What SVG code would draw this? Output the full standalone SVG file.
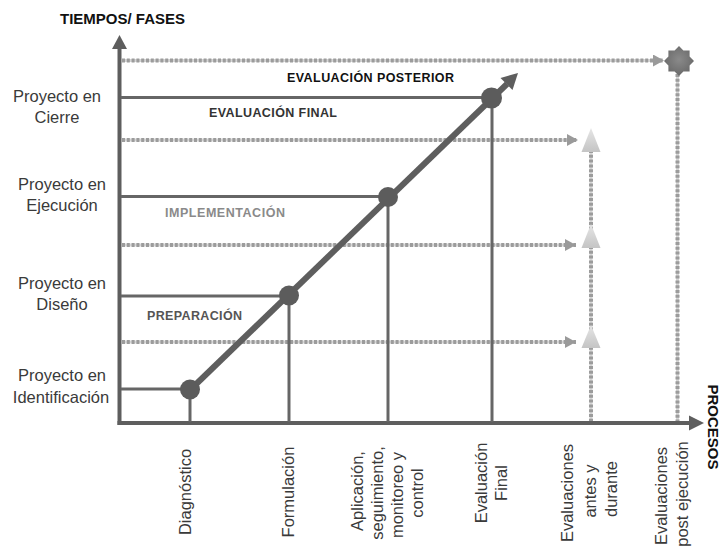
<svg xmlns="http://www.w3.org/2000/svg" width="724" height="551" viewBox="0 0 724 551">
  <style>
    .lbl { font-family: "Liberation Sans", Arial, sans-serif; font-size: 16.5px; fill: #3a3a3a; }
    .lblc { text-anchor: middle; }
    .hd { font-family: "Liberation Sans", Arial, sans-serif; font-weight: bold; fill: #111; }
    .phase { font-family: "Liberation Sans", Arial, sans-serif; font-weight: bold; font-size: 12.5px; }
    .solid { stroke: #666; stroke-width: 3; fill: none; }
    .axis { stroke: #5e5e5e; stroke-width: 4; fill: none; }
    .dotbase { stroke: #d6d6d6; stroke-width: 3; fill: none; }
    .dot { stroke: #9c9c9c; stroke-width: 4; stroke-dasharray: 3 1.8; fill: none; }
    .node { fill: #5c5c5c; }
    .tri { fill: url(#triFill); }
  </style>
  <defs>
    <marker id="dashHead" markerUnits="userSpaceOnUse" markerWidth="12" markerHeight="12" refX="11" refY="6" orient="auto">
      <path d="M0,0 L11,6 L0,12 z" fill="#9a9a9a"/>
    </marker>
    <linearGradient id="triFill" x1="0" y1="0" x2="0" y2="1">
      <stop offset="0" stop-color="#e6e6e6"/>
      <stop offset="1" stop-color="#c4c4c4"/>
    </linearGradient>
    <radialGradient id="starFill" cx="0.5" cy="0.45" r="0.6">
      <stop offset="0" stop-color="#8a8a8a"/>
      <stop offset="1" stop-color="#666"/>
    </radialGradient>
  </defs>

  <!-- axes -->
  <g id="axes">
    <line class="axis" x1="119.5" y1="425" x2="119.5" y2="47"/>
    <polygon points="112,49 127,49 119.5,35" fill="#5e5e5e"/>
    <line class="axis" x1="117.5" y1="423" x2="690" y2="423"/>
    <polygon points="689,415.5 689,430.5 704,423" fill="#5e5e5e"/>
    <text class="hd" x="60" y="24" font-size="15">TIEMPOS/ FASES</text>
    <text class="hd" font-size="15" text-anchor="middle" transform="translate(708,427) rotate(90)">PROCESOS</text>
  </g>

  <!-- connectors -->
  <g id="connectors">
    <!-- dotted evaluation guides -->
    <line class="dotbase" x1="122" y1="60.5" x2="654" y2="60.5"/>
    <line class="dot" x1="122" y1="60.5" x2="664" y2="60.5" marker-end="url(#dashHead)"/>
    <line class="dotbase" x1="122" y1="140" x2="568" y2="140"/>
    <line class="dot" x1="122" y1="140" x2="578" y2="140" marker-end="url(#dashHead)"/>
    <line class="dotbase" x1="122" y1="245" x2="566" y2="245"/>
    <line class="dot" x1="122" y1="245" x2="576" y2="245" marker-end="url(#dashHead)"/>
    <line class="dotbase" x1="122" y1="342" x2="566" y2="342"/>
    <line class="dot" x1="122" y1="342" x2="576" y2="342" marker-end="url(#dashHead)"/>
    <line class="dotbase" x1="591" y1="150" x2="591" y2="421"/>
    <line class="dot" x1="591" y1="150" x2="591" y2="421"/>
    <line class="dotbase" x1="677.5" y1="74" x2="677.5" y2="421"/>
    <line class="dot" x1="677.5" y1="74" x2="677.5" y2="421"/>

    <!-- solid phase levels -->
    <line class="solid" x1="121" y1="97.5" x2="492" y2="97.5"/>
    <line class="solid" x1="121" y1="196.5" x2="388" y2="196.5"/>
    <line class="solid" x1="121" y1="296" x2="289" y2="296"/>
    <line class="solid" x1="121" y1="389" x2="190" y2="389"/>
    <!-- drops to the process axis -->
    <line class="solid" x1="190" y1="390" x2="190" y2="422"/>
    <line class="solid" x1="289" y1="296" x2="289" y2="422"/>
    <line class="solid" x1="388" y1="197" x2="388" y2="422"/>
    <line class="solid" x1="492" y1="98" x2="492" y2="422"/>

    <!-- progress diagonal -->
    <line x1="190" y1="390" x2="507" y2="84" stroke="#5e5e5e" stroke-width="6"/>
    <polygon points="518,73 512.5,90 500.5,78" fill="#5e5e5e"/>
  </g>

  <!-- milestone nodes -->
  <g id="node-identificacion">
    <circle class="node" cx="190" cy="389.5" r="10"/>
    <text class="lbl lblc" x="62" y="381">Proyecto en</text>
    <text class="lbl lblc" x="61" y="403">Identificación</text>
  </g>
  <g id="node-diseno">
    <circle class="node" cx="289" cy="295.5" r="10"/>
    <text class="lbl lblc" x="62" y="289">Proyecto en</text>
    <text class="lbl lblc" x="62" y="310">Diseño</text>
  </g>
  <g id="node-ejecucion">
    <circle class="node" cx="388" cy="197" r="10"/>
    <text class="lbl lblc" x="62" y="190">Proyecto en</text>
    <text class="lbl lblc" x="62" y="211">Ejecución</text>
  </g>
  <g id="node-cierre">
    <circle class="node" cx="491.5" cy="98" r="10.5"/>
    <text class="lbl lblc" x="57" y="102">Proyecto en</text>
    <text class="lbl lblc" x="57" y="123">Cierre</text>
  </g>
  <g id="node-post">
    <!-- eight-pointed star, outer r 15, inner r 11.5 -->
    <polygon fill="url(#starFill)" points="679,46 683.4,50.4 689.6,50.4 689.6,56.6 694,61 689.6,65.4 689.6,71.6 683.4,71.6 679,76 674.6,71.6 668.4,71.6 668.4,65.4 664,61 668.4,56.6 668.4,50.4 674.6,50.4"/>
  </g>
  <g id="node-eval-1">
    <polygon class="tri" points="591,128 600.5,152 581.5,152"/>
  </g>
  <g id="node-eval-2">
    <polygon class="tri" points="591,224 600.5,248 581.5,248"/>
  </g>
  <g id="node-eval-3">
    <polygon class="tri" points="591,325 600.5,348 581.5,348"/>
  </g>

  <!-- phase labels -->
  <g id="phases">
    <text class="phase" x="287" y="82" fill="#111" textLength="167">EVALUACIÓN POSTERIOR</text>
    <text class="phase" x="209" y="117" fill="#333" textLength="128">EVALUACIÓN FINAL</text>
    <text class="phase" x="165" y="217" fill="#8a8a8a" textLength="120">IMPLEMENTACIÓN</text>
    <text class="phase" x="147" y="320" fill="#555" textLength="95">PREPARACIÓN</text>
  </g>

  <!-- process labels -->
  <g id="processes">
    <text class="lbl lblc" transform="translate(191,492) rotate(-90)">Diagnóstico</text>
    <text class="lbl lblc" transform="translate(294,492) rotate(-90)">Formulación</text>
    <text class="lbl lblc" transform="translate(363,491) rotate(-90)">Aplicación,</text>
    <text class="lbl lblc" transform="translate(383,493) rotate(-90)">seguimiento,</text>
    <text class="lbl lblc" transform="translate(403,495) rotate(-90)">monitoreo y</text>
    <text class="lbl lblc" transform="translate(423,493) rotate(-90)">control</text>
    <text class="lbl lblc" transform="translate(487,483) rotate(-90)">Evaluación</text>
    <text class="lbl lblc" transform="translate(507,483) rotate(-90)">Final</text>
    <text class="lbl lblc" transform="translate(573,493) rotate(-90)">Evaluaciones</text>
    <text class="lbl lblc" transform="translate(596,491) rotate(-90)">antes y</text>
    <text class="lbl lblc" transform="translate(617,489) rotate(-90)">durante</text>
    <text class="lbl lblc" transform="translate(667,496) rotate(-90)">Evaluaciones</text>
    <text class="lbl lblc" transform="translate(688,494) rotate(-90)">post ejecución</text>
  </g>
</svg>
